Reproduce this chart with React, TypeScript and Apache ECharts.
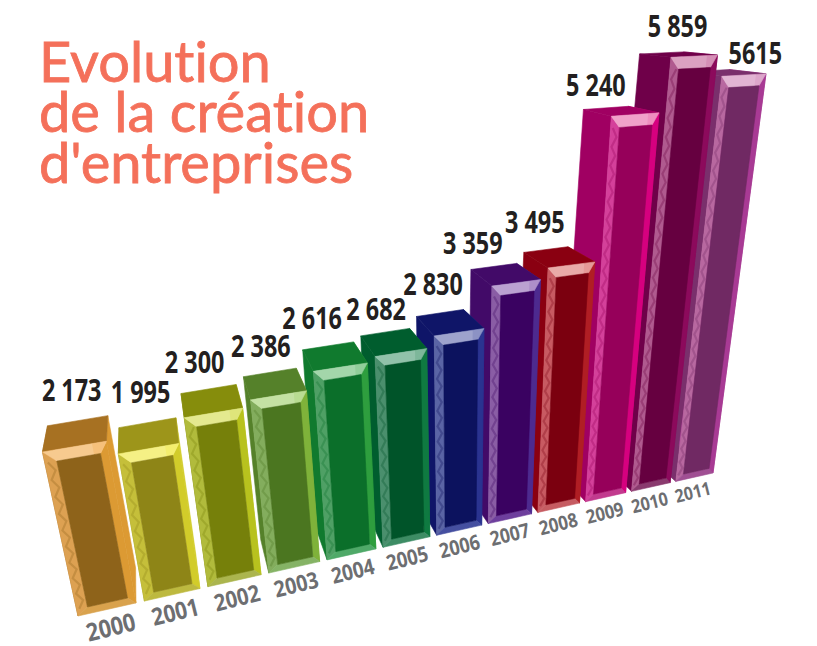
import React, { useEffect, useRef } from "react";
import * as echarts from "echarts";

const years = ["2000","2001","2002","2003","2004","2005","2006","2007","2008","2009","2010","2011"];
const values = [2173,1995,2300,2386,2616,2682,2830,3359,3495,5240,5859,5615];
const valueLabels = ["2 173","1 995","2 300","2 386","2 616","2 682","2 830","3 359","3 495","5 240","5 859","5615"];
const titleLines = ["Evolution","de la création","d'entreprises"];

const faceColors = ["#8E631A","#8E8517","#76800A","#4B7620","#0B6F2A","#005429","#0C125E","#3A0261","#7B000F","#96005A","#660040","#702963"];
const topColors = ["#A77122","#9D951A","#868D0C","#55812A","#107A2E","#005D2E","#0F1568","#420A68","#8A0011","#A00062","#6F0049","#7A2F6C"];
const bevelLeft = ["#DDA152","#C5BF3A","#B1BB3C","#83AD5D","#4FA065","#4A8F6D","#5A64A5","#8A5DA5","#C85A62","#D4409A","#B05A8F","#B868A0"];
const bevelRight = ["#DC9A33","#D2CC2A","#B8C21E","#7FB23A","#2E9E3E","#0F7A41","#2A3390","#4D2A8F","#B01E24","#D6007F","#8C0A5C","#A83A94"];
const bevelTop = ["#F6C07A","#F4EE6E","#DFE57A","#B9DC92","#92CE9A","#7DB79A","#8C92C4","#AE8FC9","#E59A98","#EE8FBF","#D58FB6","#DDA6CB"];
const bevelBottom = ["#D9A24D","#BDB93F","#ABB54E","#85B365","#4FA968","#3D8C64","#454FA0","#6E3F9D","#C65C62","#C23A8E","#8A3A6E","#A04F93"];
const labelShift = [[-6,-31],[-7,-31],[-14,-28],[-9,-27],[-16,-29],[-9,-24],[-7,-30],[-21,-24],[-11,-28],[-10,-24],[16,-28],[47,-18]];

// Picture-plane perspective: base line ends, vertical vanishing point, foreshortening.
const AXIS_MAX = 6000;
const BASE_START = [78,616];
const BASE_END = [713,473];
const VERTICAL_VP = [460,2379];
const FORE_G = 0.27;
const FORE_H = -0.235;
const HALF = 0.435;
const DEPTH_VP = [130,0];
const DEPTH_K = 0.058;
const FONT = "'Open Sans',sans-serif";

function warp(u:number,v:number) {
  const [x0,y0]=BASE_START, [x1,y1]=BASE_END;
  const a=x1*(1+FORE_G)-x0, d=y1*(1+FORE_G)-y0;
  const w=1+FORE_G*u+FORE_H*v;
  return [(a*u+FORE_H*VERTICAL_VP[0]*v+x0)/w,(d*u+FORE_H*VERTICAL_VP[1]*v+y0)/w];
}
const back = (p:number[]) => [p[0]+DEPTH_K*(DEPTH_VP[0]-p[0]), p[1]+DEPTH_K*(DEPTH_VP[1]-p[1])];

function renderItem(_params:any, api:any) {
  const i = api.value(0);
  const val = api.value(1);
  const band = api.size([1,0])[0];
  const c0 = api.coord([0,0]);
  const left = c0[0]-HALF*band;
  const right = api.coord([years.length-1,0])[0]+HALF*band;
  const topY = api.coord([0,AXIS_MAX])[1];
  const P = (off:number, v:number) => {
    const c = api.coord([i,v]);
    return warp((c[0]+off*band-left)/(right-left),(c0[1]-c[1])/(c0[1]-topY));
  };
  const base = (years.length-i)*30;
  const TL=P(-HALF,val), TR=P(HALF,val), BL=P(-HALF,0), BR=P(HALF,0);
  const TLb=back(TL), TRb=back(TR), BLb=back(BL), BRb=back(BR);
  const ins = { l:0.16, r:0.11, t:135, b:95 };
  const iTL=P(-HALF+ins.l,val-ins.t), iTR=P(HALF-ins.r,val-ins.t), iBL=P(-HALF+ins.l,ins.b), iBR=P(HALF-ins.r,ins.b);
  const poly=(points:number[][],fill:string,z:number)=>({type:"polygon",silent:true,z2:base+z,shape:{points},style:{fill,stroke:fill,lineWidth:0.6}});
  const mid=(a:number[],b:number[])=>[(a[0]+b[0])/2,(a[1]+b[1])/2];
  const glossEnd=P(HALF-0.2,val), glossEndIn=P(HALF-0.2,val-ins.t);
  const fw=Math.hypot(BR[0]-BL[0],BR[1]-BL[1]);
  const yearAt=P(0,-250);
  const topCenter=mid(TLb,TRb);
  const shift=labelShift[i];
  // chevron texture of the left bevel
  const zig:number[][]=[];
  const zigN=Math.round((val-ins.t-ins.b)/110);
  for(let k=0;k<=zigN;k++){
    zig.push(P(-HALF+(k%2===0?0.04:0.12),ins.b+(val-ins.t-ins.b)*k/zigN));
  }
  const children:any[]=[
    poly([TL,BL,BLb,TLb],topColors[i],0),
    poly([TR,BR,BRb,TRb],bevelRight[i],1),
    poly([TL,TR,TRb,TLb],topColors[i],2),
    poly([TL,iTL,iBL,BL],bevelLeft[i],3),
    poly([TR,iTR,iBR,BR],bevelRight[i],3),
    poly([BL,iBL,iBR,BR],bevelBottom[i],4),
    poly([TL,TR,iTR,iTL],bevelTop[i],5),
    poly([iTL,iTR,iBR,iBL],faceColors[i],6),
    {type:"polygon",silent:true,z2:base+7,shape:{points:[TL,glossEnd,glossEndIn,iTL]},style:{fill:"rgba(255,255,255,0.16)"}},
    {type:"polyline",silent:true,z2:base+7,shape:{points:zig},style:{fill:"none",stroke:faceColors[i],opacity:0.3,lineWidth:2.2}},
    {type:"text",silent:true,z2:1000,x:topCenter[0]+shift[0],y:topCenter[1]+shift[1],scaleX:0.78,style:{text:valueLabels[i],fontFamily:FONT,fontWeight:"bold",fontSize:30,fill:"#231F20",align:"center",verticalAlign:"middle"}},
    {type:"text",silent:true,z2:1000,x:yearAt[0],y:yearAt[1],rotation:14*Math.PI/180,scaleX:0.87,style:{text:years[i],fontFamily:FONT,fontWeight:"bold",fontSize:6+fw*0.32,fill:"#6D6E71",align:"center",verticalAlign:"middle"}},
  ];
  return {type:"group",children};
}

export default function App() {
  const ref = useRef<HTMLDivElement>(null);
  useEffect(()=>{
    const chart = echarts.init(ref.current!, null, {renderer:"svg"});
    chart.setOption({
      animation:false,
      backgroundColor:"#ffffff",
      title:{text:titleLines.join("\n"),left:34,top:30,textStyle:{fontFamily:"Lato,sans-serif",fontWeight:"normal",fontSize:56,lineHeight:50.5,color:"#F4705A",textBorderColor:"#F4705A",textBorderWidth:0.8}},
      grid:{left:40,right:40,top:30,bottom:30},
      xAxis:{type:"category",data:years,show:false},
      yAxis:{type:"value",min:0,max:AXIS_MAX,show:false},
      series:[{type:"custom",renderItem,clip:false,encode:{x:0,y:1},data:values.map((v,i)=>[i,v])}],
    });
    return ()=>chart.dispose();
  },[]);
  return <div ref={ref} style={{position:"absolute",left:0,top:0,width:817,height:646,fontVariantLigatures:"none"}} />;
}
